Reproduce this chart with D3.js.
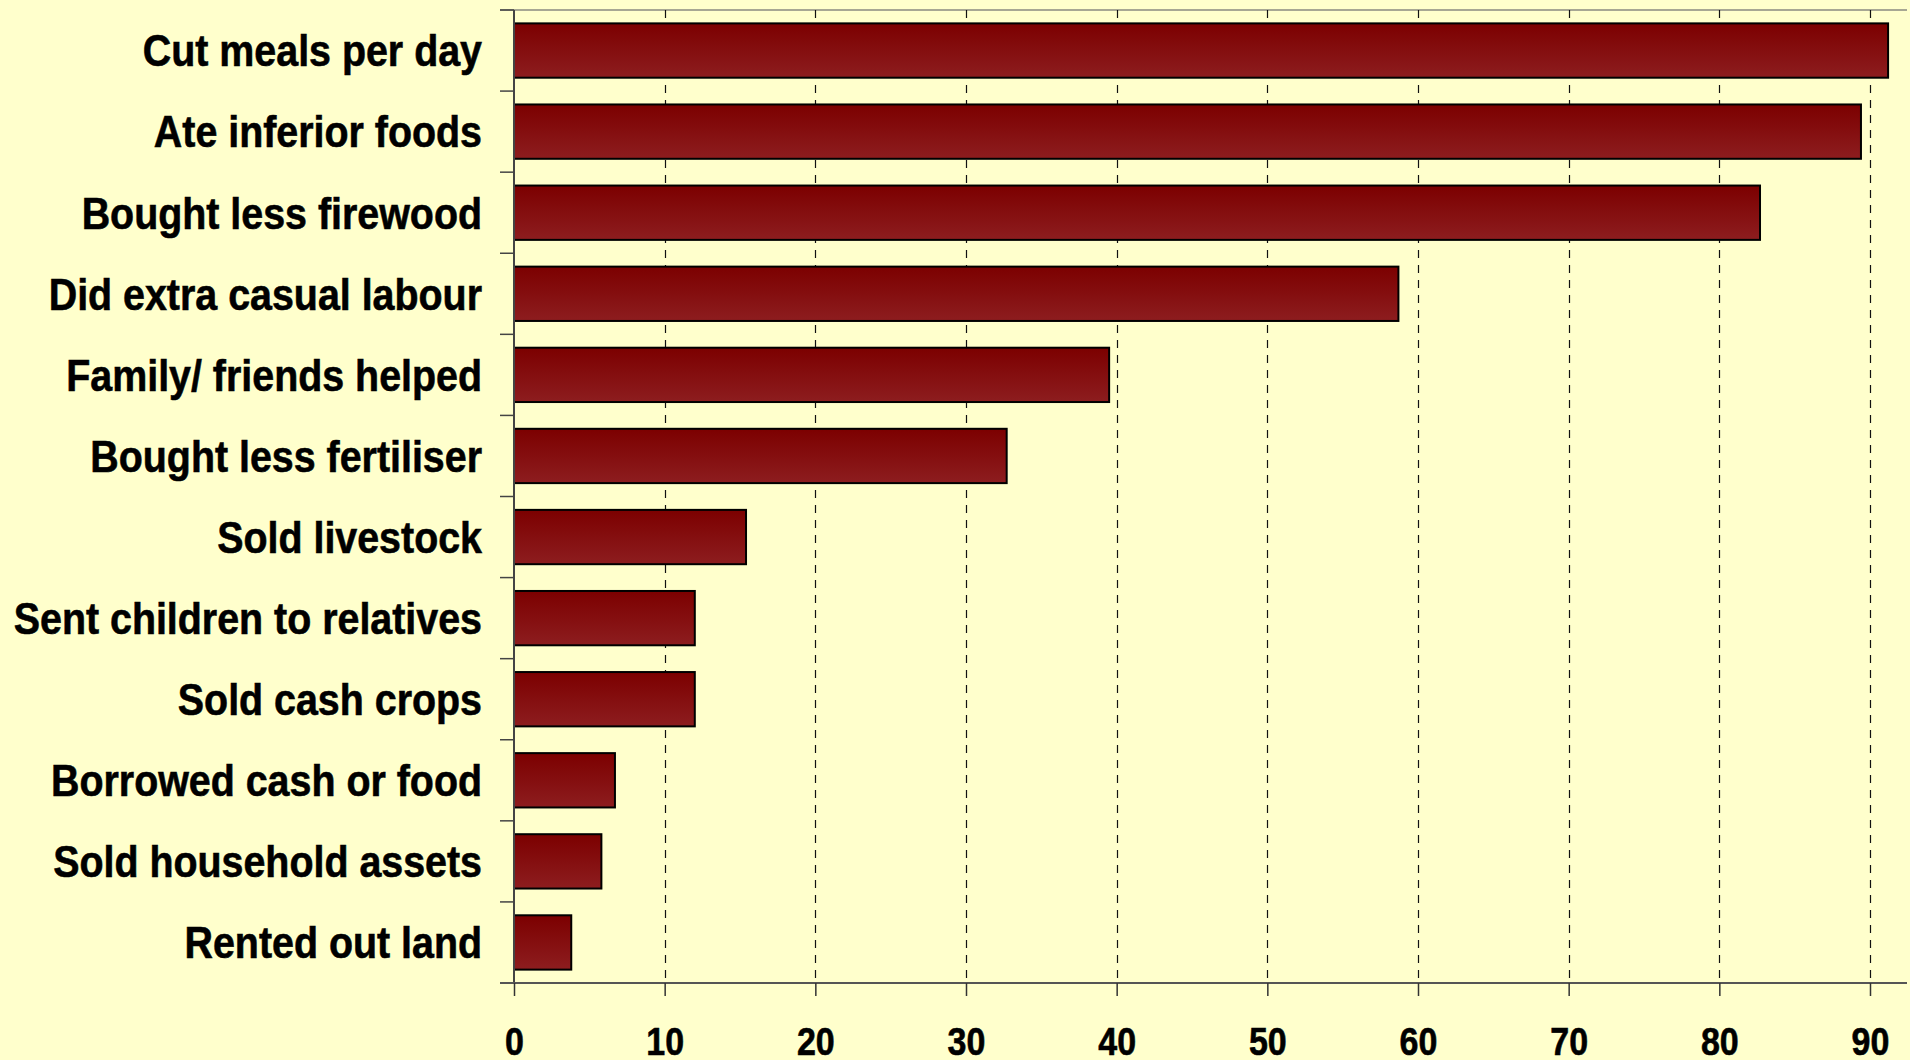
<!DOCTYPE html>
<html>
<head>
<meta charset="utf-8">
<script src="https://cdn.jsdelivr.net/npm/d3@7"></script>
<style>
  html, body { margin: 0; padding: 0; background: #ffffcc; }
  svg { display: block; }
</style>
</head>
<body>
<svg id="chart" width="1910" height="1060"></svg>
<script>
const categories = [
  "Cut meals per day",
  "Ate inferior foods",
  "Bought less firewood",
  "Did extra casual labour",
  "Family/ friends helped",
  "Bought less fertiliser",
  "Sold livestock",
  "Sent children to relatives",
  "Sold cash crops",
  "Borrowed cash or food",
  "Sold household assets",
  "Rented out land"
];
const values = [91.2, 89.4, 82.7, 58.7, 39.5, 32.7, 15.4, 12.0, 12.0, 6.7, 5.8, 3.8];
const xTicks = [0, 10, 20, 30, 40, 50, 60, 70, 80, 90];

(function () {
const svg = d3.select("#chart");
const W = 1910, H = 1060;
const plotLeft = 514, plotTop = 10, plotBottom = 983;
const squeeze = 0.895;

svg.append("rect").attr("width", W).attr("height", H).attr("fill", "#ffffcc");

const x = d3.scaleLinear().domain([0, 90]).range([plotLeft, 1870]);
const y = d3.scaleBand().domain(categories).range([plotTop, plotBottom])
  .paddingInner(0.33).paddingOuter(0.165);

const defs = svg.append("defs");
const grad = defs.append("linearGradient").attr("id", "barGrad")
  .attr("x1", 0).attr("y1", 0).attr("x2", 0).attr("y2", 1);
grad.append("stop").attr("offset", "0%").attr("stop-color", "#7c0000");
grad.append("stop").attr("offset", "100%").attr("stop-color", "#8d1d1f");

// top border line
svg.append("line")
  .attr("x1", plotLeft - 14).attr("x2", 1907)
  .attr("y1", plotTop).attr("y2", plotTop)
  .attr("stroke", "#8a8a80").attr("stroke-width", 1.5);

// dashed gridlines
svg.append("g").selectAll("line")
  .data(xTicks.filter(d => d > 0))
  .join("line")
  .attr("x1", d => Math.round(x(d)) + 0.5).attr("x2", d => Math.round(x(d)) + 0.5)
  .attr("y1", plotTop).attr("y2", plotBottom)
  .attr("stroke", "#111").attr("stroke-width", 1.2)
  .attr("stroke-dasharray", "8,7");

// bars
svg.append("g").selectAll("rect")
  .data(values)
  .join("rect")
  .attr("x", x(0))
  .attr("y", (d, i) => y(categories[i]))
  .attr("width", d => x(d) - x(0))
  .attr("height", y.bandwidth())
  .attr("fill", "url(#barGrad)")
  .attr("stroke", "#000").attr("stroke-width", 2);

// y axis line + ticks at band boundaries
const step = y.step();
const boundaries = d3.range(categories.length + 1).map(i => plotTop + i * step);
svg.append("g").selectAll("line")
  .data(boundaries)
  .join("line")
  .attr("x1", plotLeft - 14).attr("x2", plotLeft)
  .attr("y1", d => d).attr("y2", d => d)
  .attr("stroke", "#444").attr("stroke-width", 1.5);
svg.append("line")
  .attr("x1", plotLeft).attr("x2", plotLeft)
  .attr("y1", plotTop).attr("y2", plotBottom)
  .attr("stroke", "#444").attr("stroke-width", 2);

// x axis
const xAxis = d3.axisBottom(x).tickValues(xTicks).tickSize(13).tickSizeOuter(0);
const gx = svg.append("g").attr("transform", `translate(0,${plotBottom})`).call(xAxis);
gx.select(".domain").attr("stroke", "#555").attr("stroke-width", 2)
  .attr("d", `M${plotLeft - 14},0H1907`);
gx.selectAll(".tick line").attr("stroke", "#333").attr("stroke-width", 1.5);
gx.selectAll(".tick text")
  .attr("y", 72).attr("dy", 0)
  .attr("transform", `scale(${squeeze},1)`)
  .attr("fill", "#000")
  .attr("stroke", "#000").attr("stroke-width", 0.6)
  .style("font-family", "'Liberation Sans', Arial, sans-serif")
  .style("font-weight", "bold")
  .style("font-size", "38px");

// category labels
svg.append("g").selectAll("text")
  .data(categories)
  .join("text")
  .attr("transform", d => `translate(482,${y(d) + y.bandwidth() / 2}) scale(${squeeze},1)`)
  .attr("dy", "0.36em")
  .attr("text-anchor", "end")
  .attr("fill", "#000")
  .attr("stroke", "#000").attr("stroke-width", 0.6)
  .style("font-family", "'Liberation Sans', Arial, sans-serif")
  .style("font-weight", "bold")
  .style("font-size", "44px")
  .text(d => d);
})();
</script>
</body>
</html>
